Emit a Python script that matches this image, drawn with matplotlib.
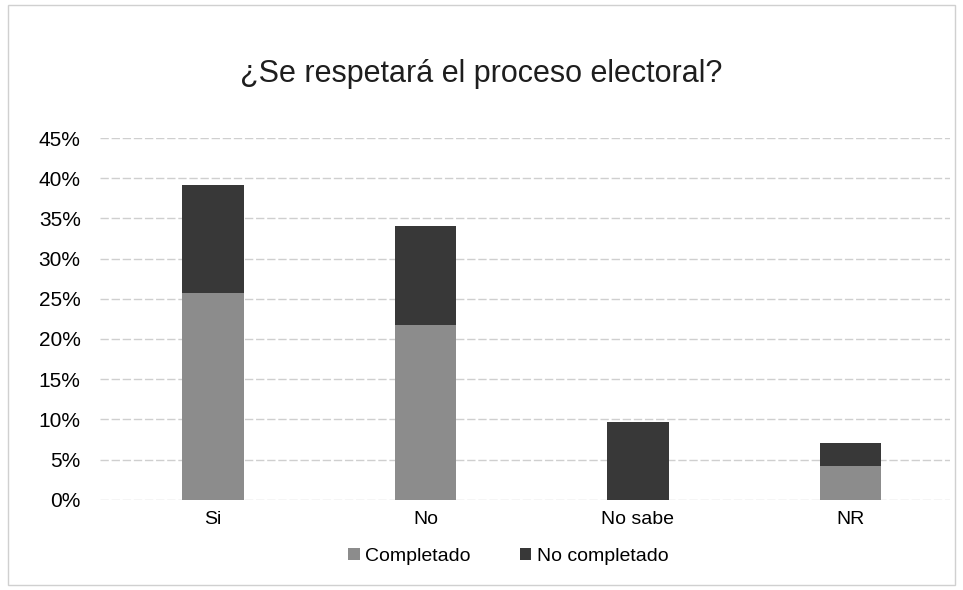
import matplotlib
matplotlib.use('Agg')
import matplotlib.pyplot as plt
from matplotlib.patches import Rectangle

categorias = ['Si', 'No', 'No sabe', 'NR']
completado = [25.7, 21.8, 0.0, 4.2]
no_completado = [13.5, 12.2, 9.7, 2.8]
ticks = [0, 5, 10, 15, 20, 25, 30, 35, 40, 45]

plt.rcParams['font.family'] = ['Liberation Sans', 'DejaVu Sans']

fig = plt.figure(figsize=(9.63, 5.9), dpi=100)
ax = fig.add_axes([0.104, 0.153, 0.883, 0.613])

x = range(len(categorias))
ax.bar(x, completado, width=0.29, color='#8c8c8c', label='Completado', zorder=3)
ax.bar(x, no_completado, width=0.29, bottom=completado, color='#383838',
       label='No completado', zorder=3)

ax.set_ylim(0, 45)
ax.set_xlim(-0.53, 3.47)
ax.set_yticks(ticks)
ax.set_yticklabels([str(t) + '%' for t in ticks], fontsize=15)
ax.set_xticks(list(x))
ax.set_xticklabels(categorias, fontsize=14)
ax.tick_params(length=0, pad=8)
ax.tick_params(axis='y', pad=14)
ax.yaxis.grid(True, color='#cfcfcf', linewidth=1, linestyle=(0, (6, 2)), zorder=0)
for s in ax.spines.values():
    s.set_visible(False)

fig.text(0.5, 0.875, '¿Se respetará el proceso electoral?', ha='center', va='center',
         fontsize=22, color='#1e1e1e')

ax.legend(loc='upper center', bbox_to_anchor=(0.48, -0.085), ncol=2, frameon=False,
          fontsize=14, handlelength=0.6, handleheight=0.6, handletextpad=0.3,
          columnspacing=2.5)

fig.patches.append(Rectangle((0.008, 0.008), 0.984, 0.984, transform=fig.transFigure,
                             fill=False, edgecolor='#d0d0d0', linewidth=1))

fig.savefig('out.png', dpi=100)
